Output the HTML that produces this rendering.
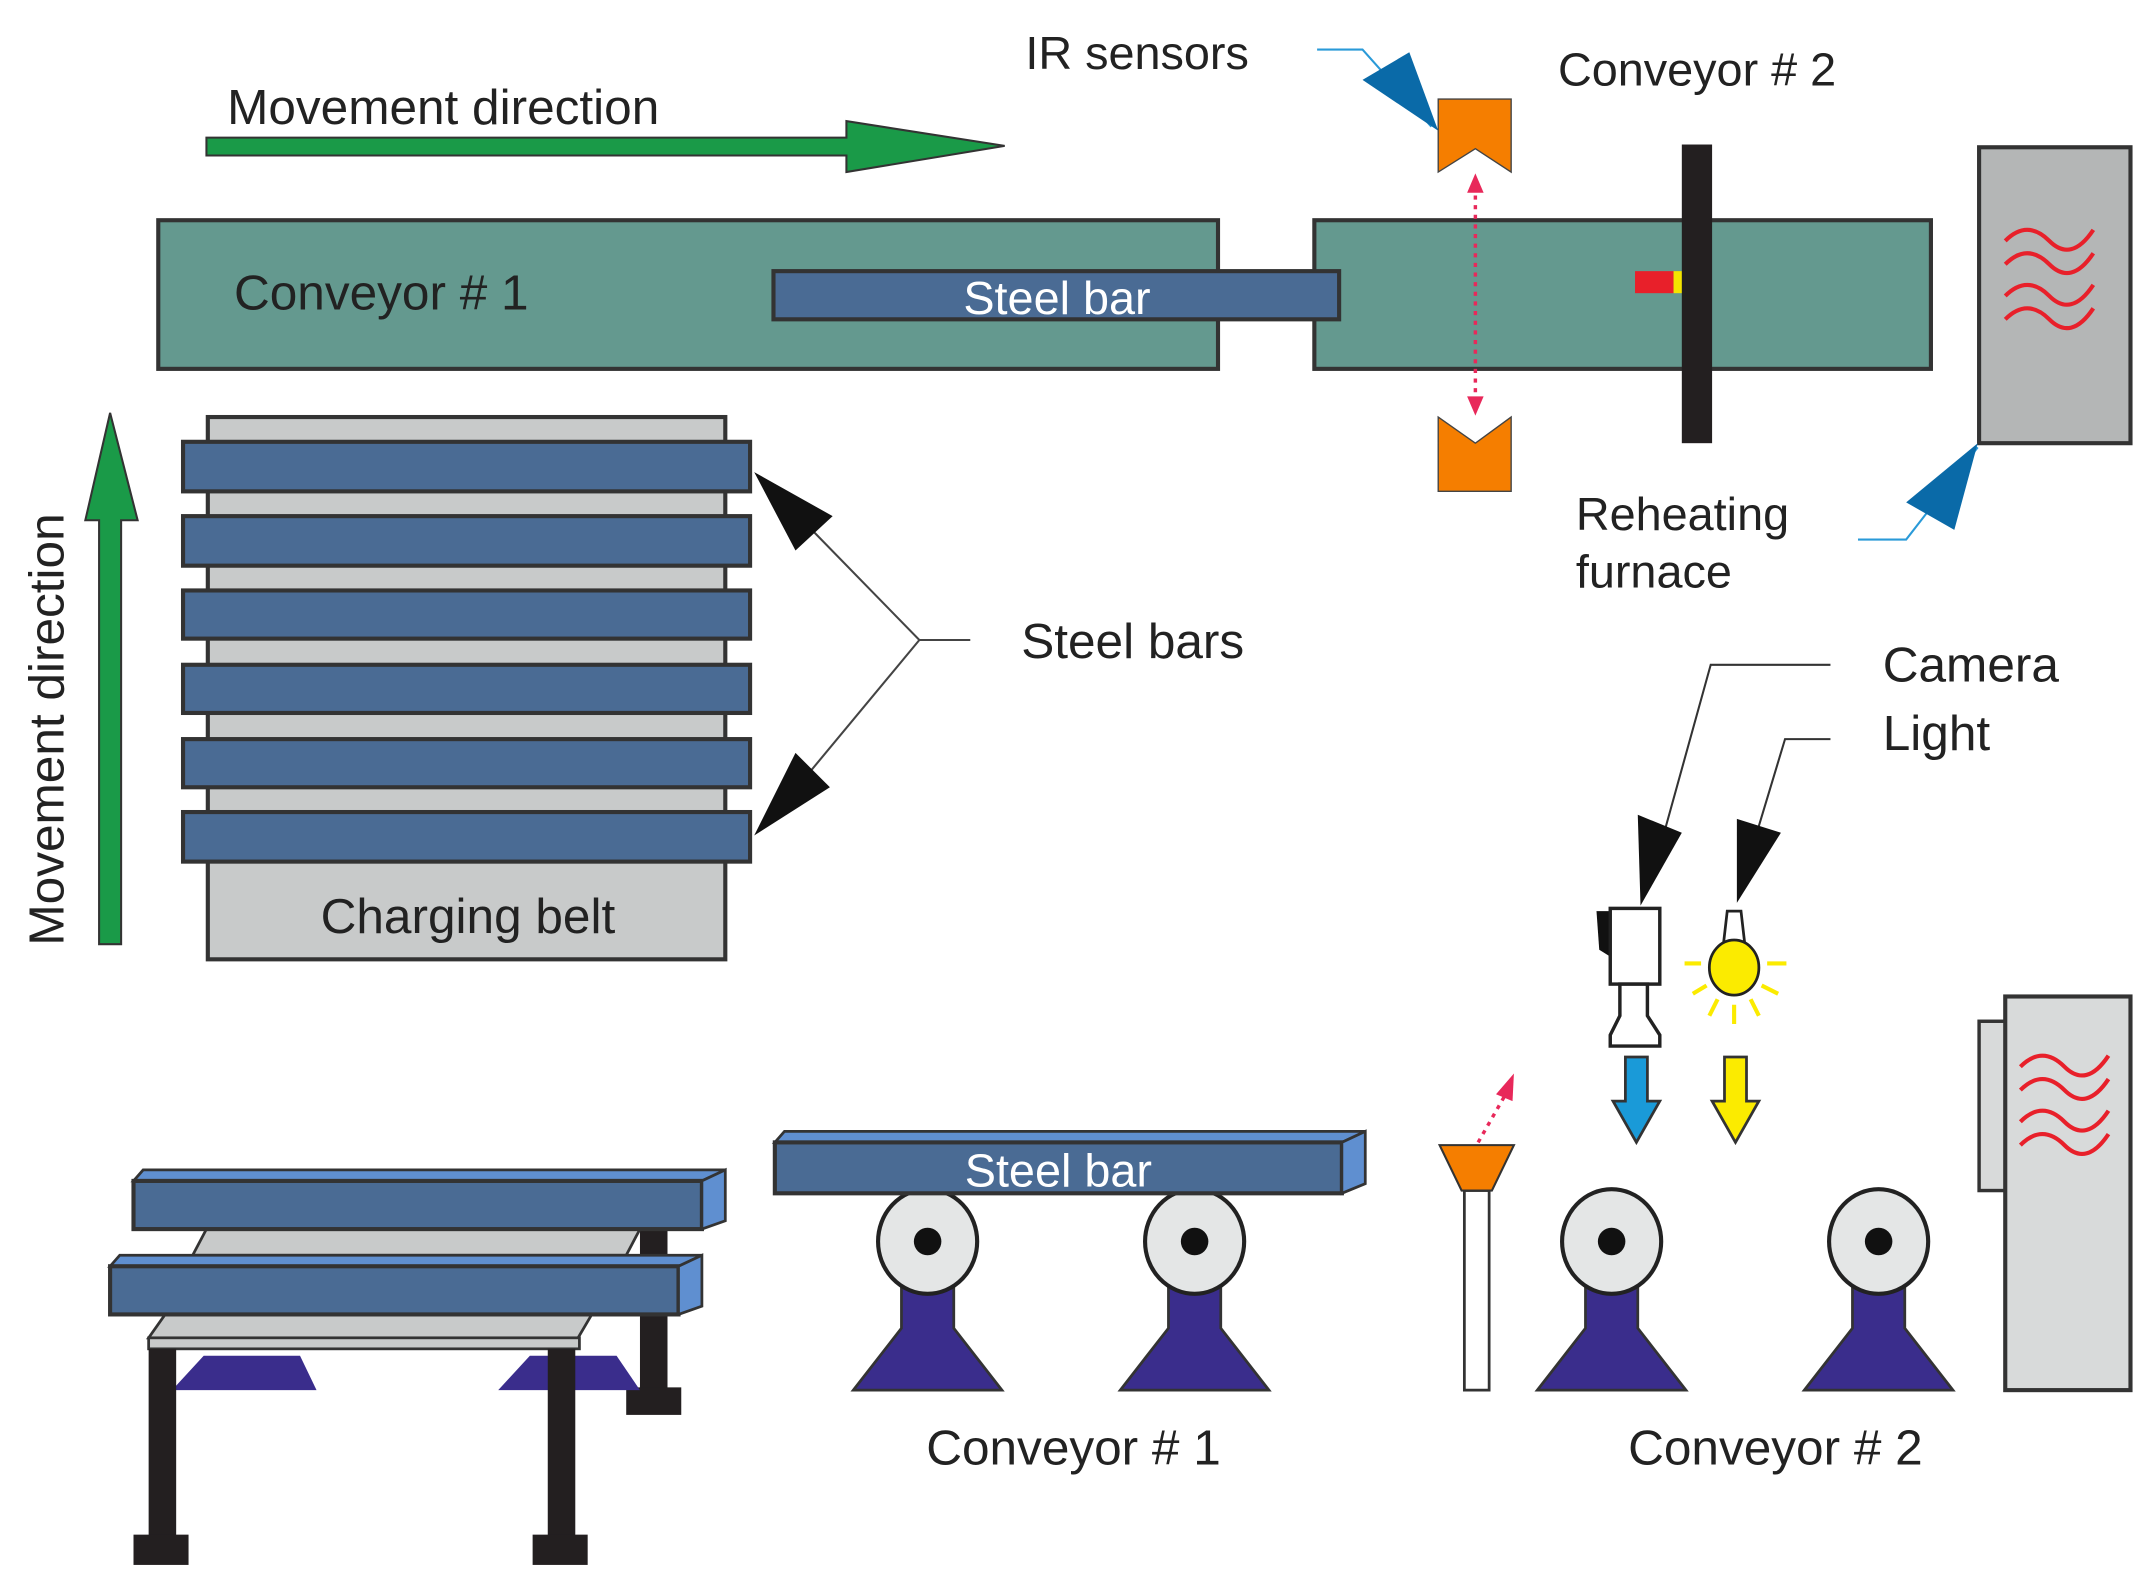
<!DOCTYPE html>
<html><head><meta charset="utf-8"><style>html,body{margin:0;padding:0;background:#fff}svg{display:block}text{font-family:"Liberation Sans",sans-serif;fill:#222}</style></head>
<body>
<svg width="2147" height="1593" viewBox="0 0 1560 1157.4" preserveAspectRatio="none" xmlns="http://www.w3.org/2000/svg">
<defs>
<marker id="rh" markerWidth="6" markerHeight="6" refX="3" refY="3" orient="auto"><path d="M0,0L6,3L0,6z" fill="#e8285a"/></marker>
</defs>
<!-- top movement arrow -->
<text x="165" y="90" font-size="36">Movement direction</text>
<polygon points="150,100 615,100 615,88 730,106 615,125 615,113 150,113" fill="#1a9a48" stroke="#333" stroke-width="1.5"/>
<!-- conveyors top -->
<rect x="115" y="160" width="770" height="108" fill="#64998f" stroke="#333" stroke-width="3"/>
<text x="170" y="225" font-size="36">Conveyor # 1</text>
<rect x="955" y="160" width="448" height="108" fill="#64998f" stroke="#333" stroke-width="3"/>
<rect x="562" y="197" width="411" height="35" fill="#4a6b94" stroke="#333" stroke-width="3"/>
<text x="768" y="228" font-size="34" text-anchor="middle" style="fill:#fff">Steel bar</text>
<rect x="1188" y="197" width="28" height="16" fill="#e8202a"/>
<rect x="1216" y="197" width="8" height="16" fill="#f4e400"/>
<rect x="1222" y="105" width="22" height="217" fill="#231f20"/>
<!-- furnace top -->
<rect x="1438" y="107" width="110" height="215" fill="#b4b6b6" stroke="#333" stroke-width="3"/>
<g fill="none" stroke="#e8202a" stroke-width="3">
<path d="M1457,175 q16,-16 32,0 t32,-8"/><path d="M1457,192 q16,-16 32,0 t32,-8"/>
<path d="M1457,215 q16,-16 32,0 t32,-8"/><path d="M1457,232 q16,-16 32,0 t32,-8"/>
</g>
<!-- IR sensors -->
<text x="745" y="50" font-size="34">IR sensors</text>
<polyline points="957,36 990,36 1040,92" fill="none" stroke="#2a9ad8" stroke-width="1.5"/>
<polygon points="990,58 1024,38 1045,95" fill="#0a6aa8"/>
<polygon points="1045,72 1098,72 1098,125 1072,108 1045,125" fill="#f57e00" stroke="#444" stroke-width="1"/>
<polygon points="1045,303 1072,322 1098,303 1098,357 1045,357" fill="#f57e00" stroke="#444" stroke-width="1"/>
<line x1="1072" y1="135" x2="1072" y2="292" stroke="#e8285a" stroke-width="2.5" stroke-dasharray="3,4"/>
<polygon points="1072,126 1066,140 1078,140" fill="#e8285a"/>
<polygon points="1072,302 1066,288 1078,288" fill="#e8285a"/>
<text x="1132" y="62" font-size="34">Conveyor # 2</text>
<text x="1145" y="385" font-size="34">Reheating</text>
<text x="1145" y="427" font-size="34">furnace</text>
<polyline points="1350,392 1385,392 1437,325" fill="none" stroke="#2a9ad8" stroke-width="1.5"/>
<polygon points="1437,322 1420,385 1385,365" fill="#0a6aa8"/>
<!-- vertical movement -->
<polygon points="72,378 62,378 80,300 100,378 88,378 88,686 72,686" fill="#1a9a48" stroke="#333" stroke-width="1.5"/>
<text transform="translate(46,530) rotate(-90)" font-size="36" text-anchor="middle">Movement direction</text>
<!-- charging belt -->
<rect x="151" y="303" width="376" height="394" fill="#c8caca" stroke="#333" stroke-width="3"/>
<g fill="#4a6b94" stroke="#333" stroke-width="3">
<rect x="133" y="321" width="412" height="36"/><rect x="133" y="375" width="412" height="36"/>
<rect x="133" y="429" width="412" height="35"/><rect x="133" y="483" width="412" height="35"/>
<rect x="133" y="537" width="412" height="35"/><rect x="133" y="590" width="412" height="36"/>
</g>
<text x="340" y="678" font-size="36" text-anchor="middle">Charging belt</text>
<text x="742" y="478" font-size="36">Steel bars</text>
<polyline points="705,465 668,465 585,380" fill="none" stroke="#444" stroke-width="1.5"/>
<line x1="668" y1="465" x2="585" y2="565" stroke="#444" stroke-width="1.5"/>
<polygon points="548,343 605,375 578,400" fill="#111"/>
<polygon points="548,607 578,547 603,572" fill="#111"/>
<!-- bottom left table -->
<rect x="465" y="890" width="20" height="125" fill="#231f20"/>
<rect x="455" y="1008" width="40" height="20" fill="#231f20"/>
<polygon points="150,893 465,893 455,912 140,912" fill="#c8caca" stroke="#333" stroke-width="2"/>
<polygon points="97,858 104,850 527,850 510,858" fill="#5f8fd0" stroke="#333" stroke-width="2"/>
<rect x="97" y="858" width="413" height="35" fill="#4a6b94" stroke="#333" stroke-width="3"/>
<polygon points="510,858 527,850 527,887 510,893" fill="#5f8fd0" stroke="#333" stroke-width="2"/>
<polygon points="120,955 430,955 420,972 108,972" fill="#c8caca" stroke="#333" stroke-width="2"/>
<rect x="108" y="972" width="313" height="8" fill="#c8caca" stroke="#333" stroke-width="2"/>
<polygon points="148,985 218,985 230,1010 125,1010" fill="#3a2d8c"/>
<polygon points="385,985 448,985 465,1010 362,1010" fill="#3a2d8c"/>
<polygon points="80,920 87,912 510,912 493,920" fill="#5f8fd0" stroke="#333" stroke-width="2"/>
<rect x="80" y="920" width="413" height="35" fill="#4a6b94" stroke="#333" stroke-width="3"/>
<polygon points="493,920 510,912 510,949 493,955" fill="#5f8fd0" stroke="#333" stroke-width="2"/>
<rect x="108" y="980" width="20" height="140" fill="#231f20"/>
<rect x="97" y="1115" width="40" height="22" fill="#231f20"/>
<rect x="398" y="980" width="20" height="140" fill="#231f20"/>
<rect x="387" y="1115" width="40" height="22" fill="#231f20"/>
<!-- rollers stands -->
<g fill="#3a2d8c" stroke="#333" stroke-width="2">
<polygon points="655,930 693,930 693,965 728,1010 620,1010 655,965"/>
<polygon points="849,930 887,930 887,965 922,1010 814,1010 849,965"/>
<polygon points="1152,930 1190,930 1190,965 1225,1010 1117,1010 1152,965"/>
<polygon points="1346,930 1384,930 1384,965 1419,1010 1311,1010 1346,965"/>
</g>
<g fill="#e4e6e6" stroke="#222" stroke-width="3">
<ellipse cx="674" cy="902" rx="36" ry="38"/><ellipse cx="868" cy="902" rx="36" ry="38"/>
<ellipse cx="1171" cy="902" rx="36" ry="38"/><ellipse cx="1365" cy="902" rx="36" ry="38"/>
</g>
<g fill="#111"><circle cx="674" cy="902" r="10"/><circle cx="868" cy="902" r="10"/><circle cx="1171" cy="902" r="10"/><circle cx="1365" cy="902" r="10"/></g>
<!-- middle steel bar -->
<polygon points="563,830 570,822 992,822 975,830" fill="#5f8fd0" stroke="#333" stroke-width="2"/>
<rect x="563" y="830" width="412" height="37" fill="#4a6b94" stroke="#333" stroke-width="3"/>
<polygon points="975,830 992,822 992,860 975,867" fill="#5f8fd0" stroke="#333" stroke-width="2"/>
<text x="769" y="862" font-size="34" text-anchor="middle" style="fill:#fff">Steel bar</text>
<text x="780" y="1064" font-size="36" text-anchor="middle">Conveyor # 1</text>
<text x="1290" y="1064" font-size="36" text-anchor="middle">Conveyor # 2</text>
<!-- pole -->
<rect x="1064" y="865" width="18" height="145" fill="#fff" stroke="#333" stroke-width="2"/>
<polygon points="1046,832 1100,832 1084,865 1062,865" fill="#f57e00" stroke="#333" stroke-width="1.5"/>
<line x1="1074" y1="830" x2="1094" y2="795" stroke="#e8285a" stroke-width="2.5" stroke-dasharray="3,4"/>
<polygon points="1100,780 1087,795 1099,800" fill="#e8285a"/>
<!-- camera -->
<path d="M1160,662 L1170,662 L1170,695 L1162,690 Z" fill="#111"/>
<rect x="1170" y="660" width="36" height="55" fill="#fff" stroke="#222" stroke-width="2.5"/>
<path d="M1177,715 L1197,715 L1197,738 L1206,752 L1206,760 L1170,760 L1170,752 L1177,738 Z" fill="#fff" stroke="#222" stroke-width="2.5"/>
<!-- light -->
<path d="M1255,662 L1265,662 L1268,688 L1252,688 Z" fill="#fff" stroke="#222" stroke-width="2"/>
<ellipse cx="1260" cy="703" rx="18" ry="20" fill="#fbeb00" stroke="#222" stroke-width="2"/>
<g stroke="#fbeb00" stroke-width="3">
<line x1="1224" y1="700" x2="1236" y2="700"/><line x1="1284" y1="700" x2="1298" y2="700"/>
<line x1="1230" y1="722" x2="1240" y2="716"/><line x1="1280" y1="716" x2="1292" y2="722"/>
<line x1="1242" y1="738" x2="1248" y2="726"/><line x1="1272" y1="726" x2="1278" y2="738"/>
<line x1="1260" y1="730" x2="1260" y2="744"/>
</g>
<polygon points="1181,768 1197,768 1197,800 1206,800 1189,830 1172,800 1181,800" fill="#1a9ad8" stroke="#333" stroke-width="2"/>
<polygon points="1253,768 1269,768 1269,800 1278,800 1261,830 1244,800 1253,800" fill="#fbeb00" stroke="#333" stroke-width="2"/>
<text x="1368" y="495" font-size="36">Camera</text>
<text x="1368" y="545" font-size="36">Light</text>
<polyline points="1330,483 1243,483 1205,620" fill="none" stroke="#333" stroke-width="1.5"/>
<polygon points="1190,592 1222,605 1192,658" fill="#111"/>
<polyline points="1330,537 1297,537 1275,610" fill="none" stroke="#333" stroke-width="1.5"/>
<polygon points="1262,595 1294,605 1262,656" fill="#111"/>
<!-- furnace bottom -->
<rect x="1438" y="742" width="19" height="123" fill="#d8dada" stroke="#333" stroke-width="2.5"/>
<rect x="1457" y="724" width="91" height="286" fill="#d8dada" stroke="#333" stroke-width="3"/>
<g fill="none" stroke="#e8202a" stroke-width="3">
<path d="M1468,775 q16,-16 32,0 t32,-8"/><path d="M1468,792 q16,-16 32,0 t32,-8"/>
<path d="M1468,815 q16,-16 32,0 t32,-8"/><path d="M1468,832 q16,-16 32,0 t32,-8"/>
</g>
</svg>
</body></html>
